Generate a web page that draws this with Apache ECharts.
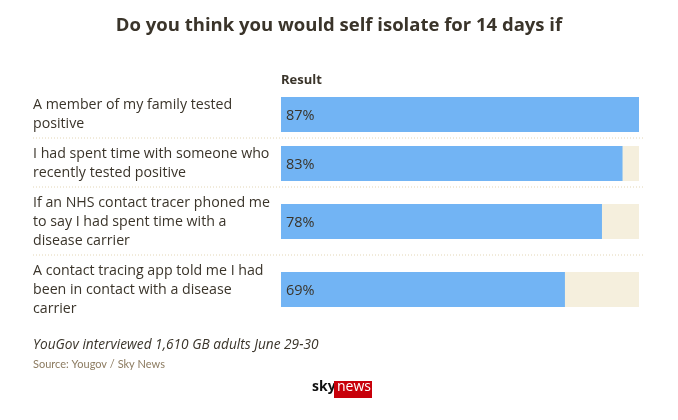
<!DOCTYPE html>
<html><head><meta charset="utf-8">
<script src="https://cdn.jsdelivr.net/npm/echarts@6/dist/echarts.min.js"></script>
<style>html,body{margin:0;padding:0;background:#fff}#c{width:678px;height:420px}</style>
</head><body><div id="c"></div>
<script>
var categories = [
  "A member of my family tested\npositive",
  "I had spent time with someone who\nrecently tested positive",
  "If an NHS contact tracer phoned me\nto say I had spent time with a\ndisease carrier",
  "A contact tracing app told me I had\nbeen in contact with a disease\ncarrier"
];
var values = [87, 83, 78, 69];
var seriesName = "Result";
var titleText = "Do you think you would self isolate for 14 days if";
var noteText = "YouGov interviewed 1,610 GB adults June 29-30";
var sourceText = "Source: Yougov / Sky News";

var FONT = "'Open Sans', 'Noto Sans', sans-serif";
var TXT = '#3a342a';
var rowTops = [97, 146, 204, 272];
var barH = 35;
var maxV = Math.max.apply(null, values);

var grids = [], xAxes = [], yAxes = [], series = [];
categories.forEach(function (cat, i) {
  grids.push({left: 281, right: 39, top: rowTops[i], height: barH, containLabel: false});
  xAxes.push({type: 'value', gridIndex: i, min: 0, max: maxV, show: false});
  yAxes.push({type: 'category', gridIndex: i, data: [cat],
    axisLine: {show: false}, axisTick: {show: false},
    axisLabel: {align: 'left', margin: 248, color: TXT, fontFamily: FONT, fontSize: 14.2, lineHeight: 19}});
  series.push({type: 'bar', name: seriesName, xAxisIndex: i, yAxisIndex: i, data: [values[i]],
    barWidth: barH, itemStyle: {color: '#72b4f4'},
    showBackground: true, backgroundStyle: {color: '#f5efdd'},
    label: {show: true, position: 'insideLeft', distance: 5, offset: [0, 1], formatter: '{c}%', color: TXT, fontFamily: FONT, fontSize: 14.5},
    animation: false, silent: true});
});

var seps = [138, 187, 255].map(function (y) {
  return {type: 'line', shape: {x1: 33, y1: y, x2: 643, y2: y},
    style: {stroke: '#e3d6b6', lineWidth: 1, lineDash: [1, 2]}};
});

var chart = echarts.init(document.getElementById('c'), null, {renderer: 'canvas'});
chart.setOption({
  backgroundColor: '#fff',
  animation: false,
  title: [
    {text: titleText, left: 'center', top: 11, textStyle: {fontFamily: FONT, fontSize: 18.5, fontWeight: 'bold', color: TXT}},
    {text: seriesName, left: 281, top: 74, padding: 0, textStyle: {fontFamily: FONT, fontSize: 13, fontWeight: 'bold', color: TXT}},
    {text: noteText, left: 33, top: 338, padding: 0, textStyle: {fontFamily: FONT, fontSize: 13.7, fontStyle: 'italic', fontWeight: 'normal', color: TXT}},
    {text: sourceText, left: 33, top: 359, padding: 0, textStyle: {fontFamily: "Lato, sans-serif", fontSize: 11, fontWeight: 'normal', color: '#8c7b60'}}
  ],
  grid: grids, xAxis: xAxes, yAxis: yAxes, series: series,
  graphic: seps.concat([
    {type: 'text', left: 312, top: 380, style: {text: 'sky', fontFamily: FONT, fontSize: 14, fontWeight: 'bold', fill: '#111'}},
    {type: 'rect', shape: {x: 334, y: 381, width: 38, height: 17}, style: {fill: '#c8000a'}},
    {type: 'text', left: 337, top: 380, style: {text: 'news', fontFamily: FONT, fontSize: 14, fill: '#fff'}}
  ])
});
</script></body></html>
